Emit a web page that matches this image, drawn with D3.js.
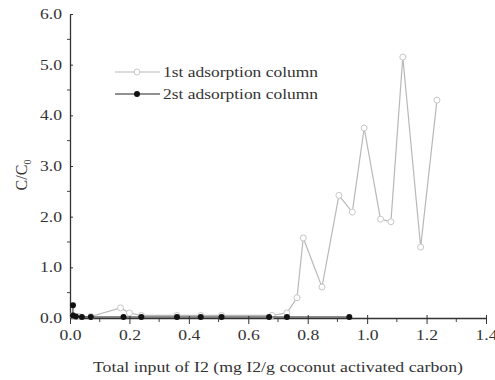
<!DOCTYPE html>
<html>
<head>
<meta charset="utf-8">
<script src="https://cdn.jsdelivr.net/npm/d3@7"></script>
<style>
  body { margin: 0; background: #fff; }
  text { font-family: "Liberation Serif", "DejaVu Serif", serif; fill: #333; }
</style>
</head>
<body>
<svg id="chart" width="495" height="380"></svg>
<script>
// 1st adsorption column
const x1 = [0.01, 0.03, 0.07, 0.17, 0.2, 0.24, 0.36, 0.44, 0.51, 0.68, 0.73, 0.764, 0.785, 0.848, 0.905, 0.95, 0.99, 1.045, 1.08, 1.12, 1.18, 1.235]
const y1 = [0.05, 0.03, 0.03, 0.2, 0.1, 0.05, 0.05, 0.05, 0.05, 0.05, 0.1, 0.4, 1.58, 0.61, 2.42, 2.09, 3.75, 1.95, 1.9, 5.15, 1.4, 4.3]
// 2st adsorption column
const x2 = [0.01, 0.01, 0.02, 0.04, 0.07, 0.18, 0.24, 0.36, 0.44, 0.51, 0.67, 0.73, 0.94]
const y2 = [0.25, 0.05, 0.03, 0.02, 0.02, 0.02, 0.02, 0.02, 0.02, 0.02, 0.02, 0.02, 0.02]

const xTicks = [0, 0.2, 0.4, 0.6, 0.8, 1.0, 1.2, 1.4]
const yTicks = [0, 1, 2, 3, 4, 5, 6]
const seriesNames = ['1st adsorption column', '2st adsorption column']

const margin = {top: 14, right: 9, bottom: 62, left: 70}
const width = 495 - margin.left - margin.right
const height = 380 - margin.top - margin.bottom

const svg = d3.select('#chart')
const g = svg.append('g').attr('transform', `translate(${margin.left},${margin.top})`)

const x = d3.scaleLinear().domain([0, 1.4]).range([0, width])
const y = d3.scaleLinear().domain([0, 6]).range([height, 0])

// minor ticks
g.append('g').selectAll('line')
    .data(d3.range(0.1, 1.4, 0.2))
    .join('line')
    .attr('x1', d => x(d)).attr('x2', d => x(d))
    .attr('y1', height).attr('y2', height + 4)
    .attr('stroke', '#444')
g.append('g').selectAll('line')
    .data(d3.range(0.5, 6, 1))
    .join('line')
    .attr('x1', -3).attr('x2', 0)
    .attr('y1', d => y(d)).attr('y2', d => y(d))
    .attr('stroke', '#444')

// axes
const xAxis = g.append('g')
    .attr('transform', `translate(0,${height})`)
    .call(d3.axisBottom(x).tickValues(xTicks).tickFormat(d3.format('.1f')).tickSizeInner(6).tickSizeOuter(0))
const yAxis = g.append('g')
    .call(d3.axisLeft(y).tickValues(yTicks).tickFormat(d3.format('.1f')).tickSizeInner(5).tickSizeOuter(0))

;[xAxis, yAxis].forEach(a => {
    a.select('.domain').attr('stroke', '#333').attr('stroke-width', 1.3)
    a.selectAll('.tick line').attr('stroke', '#333')
    a.selectAll('.tick text').attr('font-size', 14).attr('fill', '#555')
        .attr('textLength', 22).attr('lengthAdjust', 'spacingAndGlyphs')
        .style('font-family', '"Liberation Serif", serif')
})
xAxis.selectAll('.tick line').attr('y1', -3)
yAxis.selectAll('.tick line').attr('x2', 3)
xAxis.selectAll('.tick text').attr('dy', '0.95em')

// series
const line = d3.line().x(d => x(d[0])).y(d => y(d[1]))
const data1 = x1.map((v, i) => [v, y1[i]])
const data2 = x2.map((v, i) => [v, y2[i]])

g.append('path').datum(data1).attr('d', line)
    .attr('fill', 'none').attr('stroke', '#b8b8b8').attr('stroke-width', 1.2)
g.append('g').selectAll('circle').data(data1).join('circle')
    .attr('cx', d => x(d[0])).attr('cy', d => y(d[1])).attr('r', 3)
    .attr('fill', '#fff').attr('stroke', '#c8c8c8').attr('stroke-width', 1)

g.append('path').datum(data2).attr('d', line)
    .attr('fill', 'none').attr('stroke', '#222').attr('stroke-width', 1)
g.append('g').selectAll('circle').data(data2).join('circle')
    .attr('cx', d => x(d[0])).attr('cy', d => y(d[1])).attr('r', 3)
    .attr('fill', '#111')

// legend
const legend = g.append('g').attr('transform', 'translate(45,58)')
seriesNames.forEach((name, i) => {
    const row = legend.append('g').attr('transform', `translate(0,${i * 22})`)
    row.append('line').attr('x1', 0).attr('x2', 45).attr('y1', 0).attr('y2', 0)
        .attr('stroke', i === 0 ? '#b8b8b8' : '#222').attr('stroke-width', i === 0 ? 1.2 : 1)
    row.append('circle').attr('cx', 22).attr('cy', 0).attr('r', 3)
        .attr('fill', i === 0 ? '#fff' : '#111')
        .attr('stroke', i === 0 ? '#c8c8c8' : 'none')
    row.append('text').attr('x', 48).attr('y', 5).attr('font-size', 14)
        .attr('textLength', 155).attr('lengthAdjust', 'spacingAndGlyphs')
        .text(name)
})

// titles
g.append('text')
    .attr('x', 23).attr('y', height + 54)
    .attr('font-size', 15)
    .attr('textLength', 370).attr('lengthAdjust', 'spacingAndGlyphs')
    .text('Total input of I2 (mg I2/g coconut activated carbon)')

const yl = svg.append('text')
    .attr('transform', `translate(27,175) rotate(-90)`)
    .attr('text-anchor', 'middle').attr('font-size', 16)
yl.append('tspan').text('C/C')
yl.append('tspan').attr('font-size', 10).attr('dy', 4).text('0')
</script>
</body>
</html>
